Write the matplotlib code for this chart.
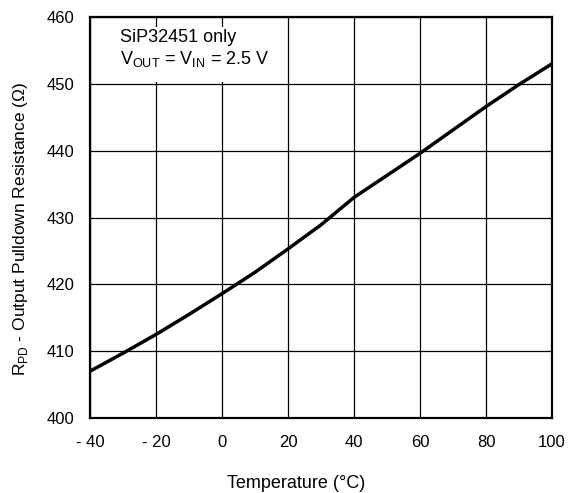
import matplotlib.pyplot as plt
from matplotlib.patches import Rectangle

plt.rcParams['font.family'] = ['Liberation Sans', 'DejaVu Sans']

temp_c = [-40, -30, -20, -10, 0, 10, 20, 30, 40, 50, 60, 70, 80, 90, 100]
r_pd = [407.0, 409.7, 412.5, 415.5, 418.6, 421.8, 425.3, 428.9, 433.0,
        436.3, 439.6, 443.1, 446.6, 449.9, 453.0]

x_ticks = [-40, -20, 0, 20, 40, 60, 80, 100]
x_tick_labels = ["- 40", "- 20", "0", "20", "40", "60", "80", "100"]
y_ticks = [400, 410, 420, 430, 440, 450, 460]

W, H = 572, 493
fig = plt.figure(figsize=(W / 100, H / 100), dpi=100)
ax = fig.add_axes([90 / W, 1 - 418 / H, 462 / W, 401 / H])

ax.plot(temp_c, r_pd, color="black", lw=2.5, solid_capstyle="round", zorder=4)

ax.set_xlim(-40, 100)
ax.set_ylim(400, 460)
ax.set_xticks(x_ticks)
ax.set_xticklabels(x_tick_labels)
ax.set_yticks(y_ticks)
ax.grid(True, color="black", lw=0.9)
ax.set_axisbelow(True)
ax.tick_params(length=0, labelsize=12, colors="black")
ax.tick_params(axis="x", pad=12)
ax.tick_params(axis="y", pad=11)
for s in ax.spines.values():
    s.set_linewidth(1.6)
    s.set_zorder(5)

# white box behind the note (hides the grid there)
ax.add_patch(Rectangle((-39.5, 450.3), 58.5, 8.2, facecolor="white",
                       edgecolor="none", zorder=2))
ax.text(-31, 456.3, "SiP32451 only", fontsize=13, va="baseline", zorder=3)
ax.text(-31, 453.0, r"V$_{\mathregular{OUT}}$ = V$_{\mathregular{IN}}$ = 2.5 V",
        fontsize=13, va="baseline", zorder=3)

fig.text(296 / W, 1 - 483 / H, "Temperature (°C)", fontsize=13,
         ha="center", va="center")
fig.text(21 / W, 1 - 229 / H,
         r"R$_{\mathregular{PD}}$ - Output Pulldown Resistance (Ω)",
         fontsize=12.5, rotation=90, ha="center", va="center")

fig.savefig("out.png", dpi=100)
